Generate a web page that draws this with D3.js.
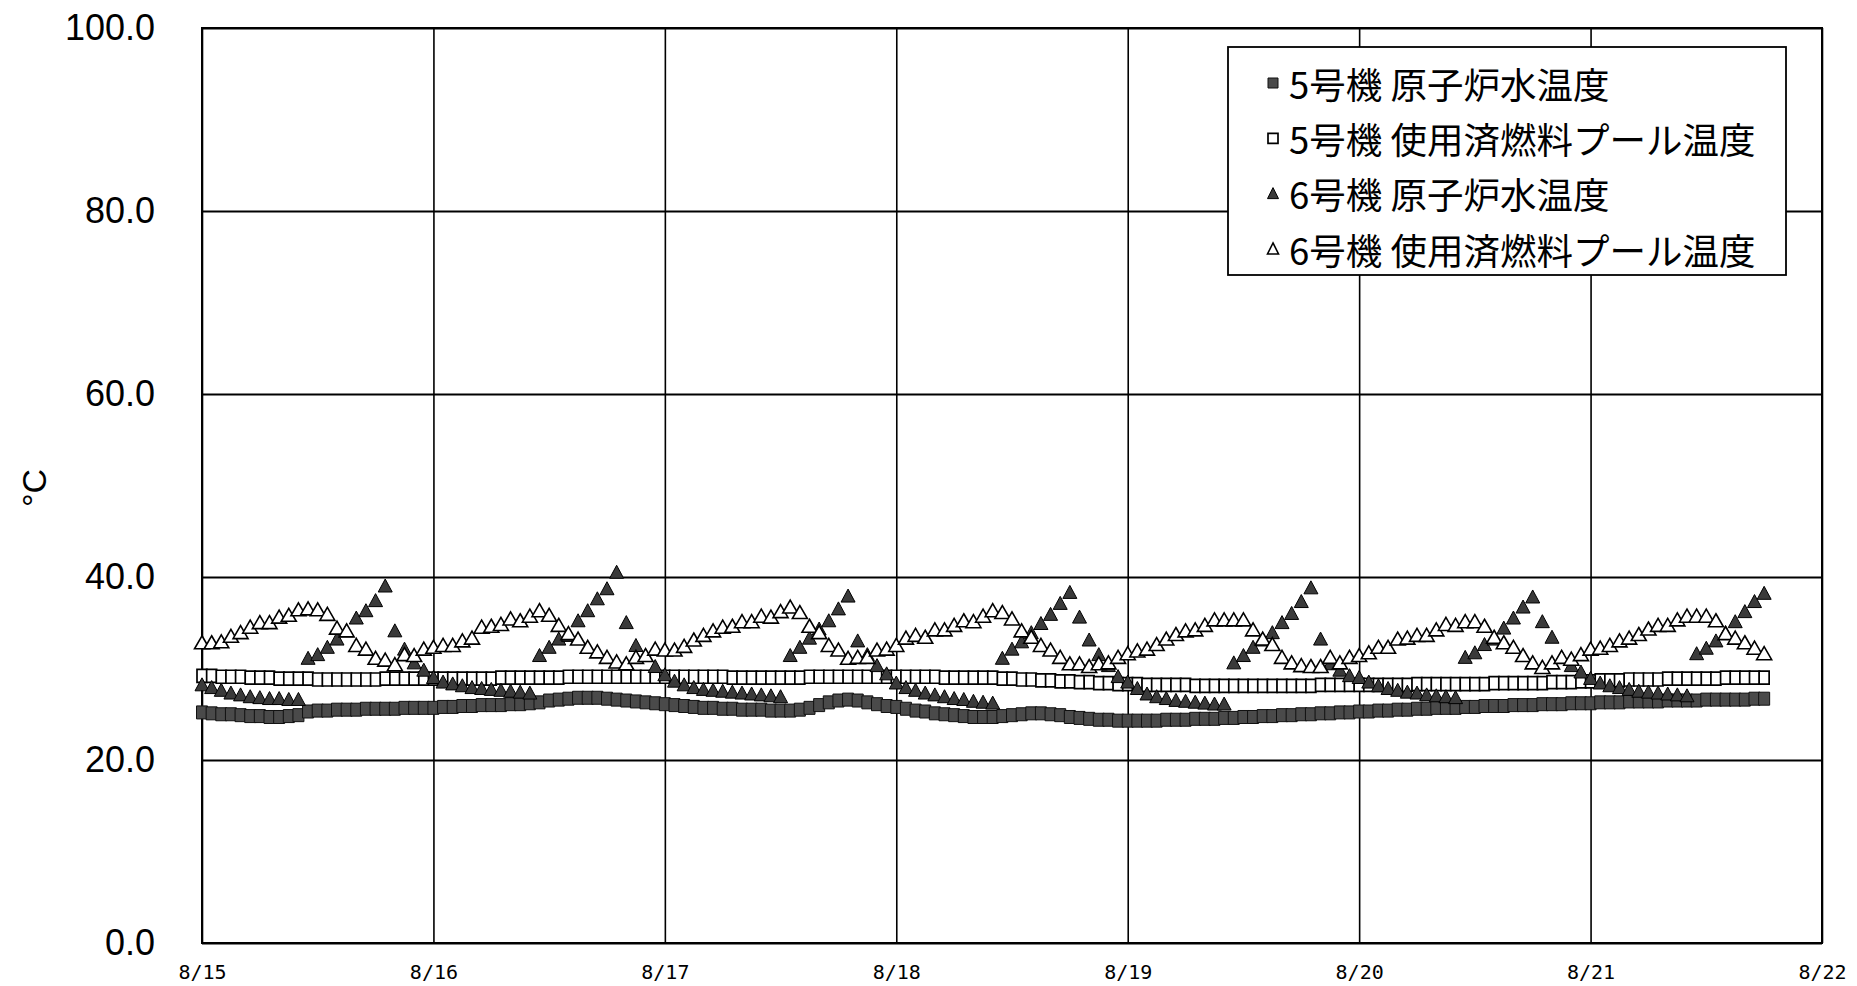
<!DOCTYPE html>
<html><head><meta charset="utf-8">
<script src="https://cdn.jsdelivr.net/npm/d3@7"></script>
<style>
html,body{margin:0;padding:0;background:#fff;}
svg{display:block;}
</style></head><body>
<svg id="chart" width="1857" height="986"></svg>
<script>
// ---- data ----
const seriesNames = ["5号機 原子炉水温度", "5号機 使用済燃料プール温度", "6号機 原子炉水温度", "6号機 使用済燃料プール温度"];
const yTicks = [0, 20, 40, 60, 80, 100];
const dayTicks = ["2011-08-15", "2011-08-16", "2011-08-17", "2011-08-18", "2011-08-19", "2011-08-20", "2011-08-21", "2011-08-22"];
const firstSample = "2011-08-15T00:00:00";
const sampleHours = 1;

// 5号機 原子炉水温度 (hourly, 8/15 0:00 - 8/21 18:00)
const r5 = [
  25.2, 25.1, 25.0, 25.0, 24.9, 24.8, 24.8, 24.7, 24.7, 24.8, 24.9, 25.3, 25.4, 25.4, 25.5, 25.5, 25.5, 25.6, 25.6, 25.6, 25.6, 25.7, 25.7, 25.7,
  25.7, 25.8, 25.8, 25.9, 25.9, 26.0, 26.0, 26.0, 26.1, 26.1, 26.2, 26.3, 26.5, 26.6, 26.7, 26.8, 26.8, 26.8, 26.7, 26.6, 26.5, 26.4, 26.3, 26.2,
  26.1, 26.0, 25.9, 25.8, 25.7, 25.7, 25.6, 25.6, 25.5, 25.5, 25.5, 25.4, 25.4, 25.4, 25.5, 25.7, 26.0, 26.3, 26.5, 26.6, 26.5, 26.3, 26.1, 25.9,
  25.8, 25.6, 25.4, 25.3, 25.1, 25.0, 24.9, 24.8, 24.7, 24.7, 24.7, 24.8, 24.9, 25.0, 25.1, 25.1, 25.0, 24.9, 24.7, 24.6, 24.5, 24.4, 24.4, 24.3,
  24.3, 24.3, 24.3, 24.3, 24.4, 24.4, 24.4, 24.5, 24.5, 24.5, 24.6, 24.6, 24.7, 24.7, 24.8, 24.8, 24.9, 24.9, 25.0, 25.0, 25.1, 25.1, 25.2, 25.2,
  25.3, 25.3, 25.4, 25.4, 25.5, 25.5, 25.6, 25.6, 25.7, 25.7, 25.7, 25.8, 25.8, 25.9, 25.9, 25.9, 26.0, 26.0, 26.0, 26.1, 26.1, 26.1, 26.2, 26.2,
  26.2, 26.3, 26.3, 26.3, 26.4, 26.4, 26.4, 26.4, 26.5, 26.5, 26.5, 26.5, 26.6, 26.6, 26.6, 26.6, 26.6, 26.7, 26.7
];
// 5号機 使用済燃料プール温度
const s5 = [
  29.2, 29.2, 29.1, 29.1, 29.1, 29.0, 29.0, 29.0, 28.9, 28.9, 28.9, 28.9, 28.8, 28.8, 28.8, 28.8, 28.8, 28.8, 28.8, 28.9, 28.9, 28.9, 28.9, 28.9,
  28.9, 28.9, 28.9, 28.9, 28.9, 28.9, 28.9, 29.0, 29.0, 29.0, 29.0, 29.0, 29.0, 29.0, 29.1, 29.1, 29.1, 29.1, 29.1, 29.1, 29.1, 29.1, 29.1, 29.1,
  29.1, 29.1, 29.1, 29.1, 29.1, 29.1, 29.1, 29.0, 29.0, 29.0, 29.0, 29.0, 29.0, 29.0, 29.0, 29.1, 29.1, 29.1, 29.1, 29.1, 29.1, 29.1, 29.1, 29.1,
  29.1, 29.1, 29.1, 29.1, 29.1, 29.0, 29.0, 29.0, 29.0, 29.0, 29.0, 28.9, 28.9, 28.8, 28.8, 28.7, 28.7, 28.6, 28.6, 28.5, 28.5, 28.4, 28.4, 28.3,
  28.3, 28.3, 28.2, 28.2, 28.2, 28.2, 28.2, 28.1, 28.1, 28.1, 28.1, 28.1, 28.1, 28.1, 28.1, 28.1, 28.1, 28.1, 28.1, 28.1, 28.2, 28.2, 28.2, 28.2,
  28.2, 28.2, 28.2, 28.2, 28.2, 28.2, 28.3, 28.3, 28.3, 28.3, 28.3, 28.3, 28.3, 28.3, 28.4, 28.4, 28.4, 28.4, 28.4, 28.4, 28.5, 28.5, 28.5, 28.6,
  28.6, 28.7, 28.7, 28.7, 28.8, 28.8, 28.8, 28.8, 28.9, 28.9, 28.9, 28.9, 28.9, 28.9, 29.0, 29.0, 29.0, 29.0, 29.0
];
// 6号機 原子炉水温度
const r6 = [
  28.2, 27.9, 27.6, 27.3, 27.1, 26.9, 26.8, 26.7, 26.7, 26.6, 26.6, 31.1, 31.5, 32.3, 33.2, 34.1, 35.5, 36.3, 37.4, 39.0, 34.1, 32.1, 30.6, 29.8,
  29.0, 28.5, 28.3, 28.1, 27.9, 27.8, 27.7, 27.6, 27.5, 27.4, 27.3, 31.4, 32.3, 33.2, 33.6, 35.2, 36.3, 37.6, 38.7, 40.5, 35.0, 32.5, 31.4, 30.2,
  29.3, 28.6, 28.2, 27.9, 27.7, 27.6, 27.5, 27.4, 27.3, 27.2, 27.1, 27.0, 26.9, 31.4, 32.3, 33.3, 34.3, 35.2, 36.5, 37.9, 33.0, 31.5, 30.3, 29.4,
  28.4, 27.9, 27.6, 27.3, 27.1, 26.9, 26.7, 26.6, 26.4, 26.3, 26.2, 31.1, 32.1, 32.9, 33.9, 34.9, 35.9, 37.1, 38.3, 35.6, 33.1, 31.5, 30.3, 29.1,
  28.5, 27.8, 27.2, 26.9, 26.7, 26.5, 26.4, 26.3, 26.2, 26.1, 26.1, 30.6, 31.4, 32.3, 33.1, 33.9, 35.0, 36.0, 37.3, 38.8, 33.2, 30.5, 29.8, 29.2,
  29.0, 28.5, 28.1, 27.8, 27.6, 27.4, 27.3, 27.1, 27.0, 26.9, 26.8, 31.2, 31.7, 32.6, 33.2, 34.4, 35.5, 36.7, 37.8, 35.1, 33.4, 31.2, 30.3, 29.6,
  28.9, 28.4, 28.1, 27.9, 27.7, 27.5, 27.4, 27.3, 27.2, 27.1, 27.0, 31.6, 32.2, 33.0, 33.9, 35.1, 36.2, 37.3, 38.2
];
// 6号機 使用済燃料プール温度
const s6 = [
  32.8, 32.8, 32.9, 33.5, 33.9, 34.5, 35.0, 35.0, 35.6, 35.8, 36.4, 36.5, 36.4, 35.9, 34.4, 34.1, 32.5, 32.1, 31.1, 30.9, 30.4, 31.5, 31.4, 32.1,
  32.3, 32.5, 32.5, 33.0, 33.3, 34.5, 34.6, 34.8, 35.4, 35.2, 35.7, 36.3, 35.8, 34.7, 33.8, 33.2, 32.3, 31.8, 31.2, 30.7, 30.5, 31.2, 31.4, 32.1,
  32.0, 32.0, 32.4, 33.1, 33.6, 34.1, 34.5, 34.6, 35.1, 35.1, 35.7, 35.6, 36.2, 36.7, 36.1, 34.6, 33.9, 32.5, 32.0, 31.1, 31.2, 31.2, 32.0, 32.1,
  32.5, 33.3, 33.6, 33.4, 34.2, 34.2, 34.7, 35.2, 35.1, 35.7, 36.3, 36.1, 35.4, 34.1, 33.4, 32.5, 32.0, 31.2, 30.5, 30.5, 30.2, 30.5, 30.6, 31.2,
  31.6, 31.9, 32.1, 32.6, 33.2, 33.7, 34.1, 34.2, 34.7, 35.3, 35.3, 35.3, 35.3, 34.2, 33.2, 32.6, 31.2, 30.6, 30.3, 30.2, 30.2, 31.2, 30.6, 31.2,
  31.4, 31.7, 32.3, 32.3, 33.2, 33.3, 33.6, 33.6, 34.2, 34.8, 34.7, 35.1, 35.1, 34.6, 33.4, 32.8, 32.3, 31.4, 30.6, 30.1, 30.6, 31.2, 31.0, 31.5,
  32.1, 32.2, 32.5, 33.0, 33.3, 33.7, 34.3, 34.7, 34.7, 35.3, 35.7, 35.7, 35.7, 35.2, 33.8, 33.3, 32.8, 32.2, 31.6
];

// ---- chart ----
const svg = d3.select("#chart");
const W = 1857, H = 986;
const L = 202, R = 1822, T = 28, B = 943;

const parseDay = d3.timeParse("%Y-%m-%d");
const days = dayTicks.map(parseDay);
const t0 = d3.timeParse("%Y-%m-%dT%H:%M:%S")(firstSample);
const timeAt = i => d3.timeHour.offset(t0, i * sampleHours);

const x = d3.scaleTime().domain([days[0], days[days.length - 1]]).range([L, R]);
const y = d3.scaleLinear().domain([0, 100]).range([B, T]);

svg.append("rect").attr("width", W).attr("height", H).attr("fill", "#fff");

// gridlines
const gy = svg.append("g").attr("transform", `translate(${L},0)`)
  .call(d3.axisLeft(y).tickValues(yTicks).tickSize(-(R - L)).tickFormat(""));
gy.select(".domain").remove();
gy.selectAll("line").attr("stroke", "#000").attr("stroke-width", 1.8);

const gx = svg.append("g").attr("transform", `translate(0,${B})`)
  .call(d3.axisBottom(x).tickValues(days).tickSize(-(B - T)).tickFormat(""));
gx.select(".domain").remove();
gx.selectAll("line").attr("stroke", "#000").attr("stroke-width", 1.6);

svg.append("rect").attr("x", L).attr("y", T).attr("width", R - L).attr("height", B - T)
  .attr("fill", "none").attr("stroke", "#000").attr("stroke-width", 2);

// axis labels
const ay = svg.append("g").attr("transform", `translate(${L},0)`)
  .call(d3.axisLeft(y).tickValues(yTicks).tickFormat(d3.format(".1f")).tickSize(0).tickPadding(47));
ay.select(".domain").remove();
ay.selectAll("text").attr("font-family", "'Liberation Sans', Arial, sans-serif")
  .attr("font-size", 36).attr("fill", "#000");

const ax = svg.append("g").attr("transform", `translate(0,${B})`)
  .call(d3.axisBottom(x).tickValues(days).tickFormat(d3.timeFormat("%-m/%-d")).tickSize(0).tickPadding(22));
ax.select(".domain").remove();
ax.selectAll("text").attr("font-family", "'DejaVu Sans Mono', monospace")
  .attr("font-size", 20).attr("fill", "#000");

svg.append("text")
  .attr("transform", "translate(46,488) rotate(-90)")
  .attr("text-anchor", "middle")
  .attr("font-family", "'Liberation Sans', Arial, sans-serif")
  .attr("font-size", 34).attr("fill", "#000")
  .text("°C");

// markers
const sq = (w, h) => `M${-w / 2},${-h / 2}h${w}v${h}h${-w}Z`;
const tri = (w, h) => `M0,${-h * 0.55}L${w / 2},${h * 0.45}L${-w / 2},${h * 0.45}Z`;
const styles = [
  { path: sq(11, 13), fill: "#4a4a4a", stroke: "#111", sw: 1, lpath: sq(10, 10) },
  { path: sq(10, 13), fill: "#fff", stroke: "#000", sw: 1.7, lpath: sq(10, 10) },
  { path: tri(14, 13), fill: "#3a3a3a", stroke: "#000", sw: 1, lpath: tri(11, 11) },
  { path: tri(15, 13), fill: "#fff", stroke: "#000", sw: 1.6, lpath: tri(11, 11) }
];
const allSeries = [r5, s5, r6, s6];

allSeries.forEach((vals, si) => {
  const st = styles[si];
  svg.append("g").selectAll("path")
    .data(vals.map((v, i) => ({ t: timeAt(i), v })))
    .join("path")
    .attr("transform", d => `translate(${x(d.t)},${y(d.v)})`)
    .attr("d", st.path)
    .attr("fill", st.fill)
    .attr("stroke", st.stroke)
    .attr("stroke-width", st.sw);
});

// legend
const lg = svg.append("g");
lg.append("rect").attr("x", 1228).attr("y", 47).attr("width", 558).attr("height", 228)
  .attr("fill", "#fff").attr("stroke", "#000").attr("stroke-width", 1.8);
const rowY = d3.scalePoint().domain(d3.range(seriesNames.length)).range([83, 249]);
seriesNames.forEach((name, i) => {
  const st = styles[i];
  lg.append("path").attr("transform", `translate(1273,${rowY(i)})`)
    .attr("d", st.lpath).attr("fill", st.fill).attr("stroke", st.stroke).attr("stroke-width", st.sw);
  lg.append("text").attr("x", 1289).attr("y", rowY(i))
    .attr("dominant-baseline", "central")
    .attr("font-family", "'Noto Sans CJK JP', sans-serif")
    .attr("font-size", 36.5).attr("fill", "#000")
    .text(name);
});
</script>
</body></html>
